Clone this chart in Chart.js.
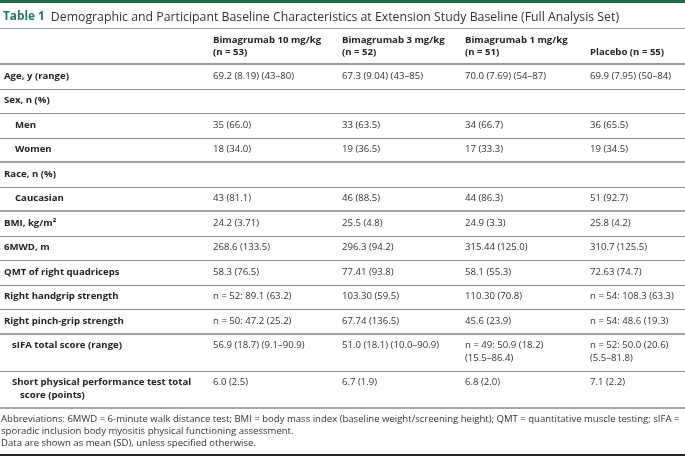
<!DOCTYPE html>
<html><head><meta charset="utf-8">
<script src="https://cdn.jsdelivr.net/npm/chart.js@4/dist/chart.umd.min.js"></script>
<style>html,body{margin:0;padding:0;background:#fff}canvas{display:block}</style>
</head><body>
<div style="width:685px;height:457px"><canvas id="c" width="685" height="457"></canvas></div>
<script>
// ---- data ----
const titleLabel = "Table 1";
const titleText = "Demographic and Participant Baseline Characteristics at Extension Study Baseline (Full Analysis Set)";
const columnHeaders = [
  ["Bimagrumab 10 mg/kg", "(n = 53)"],
  ["Bimagrumab 3 mg/kg", "(n = 52)"],
  ["Bimagrumab 1 mg/kg", "(n = 51)"],
  ["Placebo (n = 55)"]
];
const rowLabels = [
  ["Age, y (range)"], ["Sex, n (%)"], ["Men"], ["Women"], ["Race, n (%)"], ["Caucasian"],
  ["BMI, kg/m²"], ["6MWD, m"], ["QMT of right quadriceps"], ["Right handgrip strength"],
  ["Right pinch-grip strength"], ["sIFA total score (range)"],
  ["Short physical performance test total", "score (points)"]
];
const rowIndent = [0, 0, 2, 2, 0, 2, 0, 0, 0, 0, 0, 1, 1];
const bima10 = [["69.2 (8.19) (43–80)"], [], ["35 (66.0)"], ["18 (34.0)"], [], ["43 (81.1)"], ["24.2 (3.71)"], ["268.6 (133.5)"], ["58.3 (76.5)"], ["n = 52: 89.1 (63.2)"], ["n = 50: 47.2 (25.2)"], ["56.9 (18.7) (9.1–90.9)"], ["6.0 (2.5)"]];
const bima3 = [["67.3 (9.04) (43–85)"], [], ["33 (63.5)"], ["19 (36.5)"], [], ["46 (88.5)"], ["25.5 (4.8)"], ["296.3 (94.2)"], ["77.41 (93.8)"], ["103.30 (59.5)"], ["67.74 (136.5)"], ["51.0 (18.1) (10.0–90.9)"], ["6.7 (1.9)"]];
const bima1 = [["70.0 (7.69) (54–87)"], [], ["34 (66.7)"], ["17 (33.3)"], [], ["44 (86.3)"], ["24.9 (3.3)"], ["315.44 (125.0)"], ["58.1 (55.3)"], ["110.30 (70.8)"], ["45.6 (23.9)"], ["n = 49: 50.9 (18.2)", "(15.5–86.4)"], ["6.8 (2.0)"]];
const placebo = [["69.9 (7.95) (50–84)"], [], ["36 (65.5)"], ["19 (34.5)"], [], ["51 (92.7)"], ["25.8 (4.2)"], ["310.7 (125.5)"], ["72.63 (74.7)"], ["n = 54: 108.3 (63.3)"], ["n = 54: 48.6 (19.3)"], ["n = 52: 50.0 (20.6)", "(5.5–81.8)"], ["7.1 (2.2)"]];
const footnotes = [
  "Abbreviations: 6MWD = 6-minute walk distance test; BMI = body mass index (baseline weight/screening height); QMT = quantitative muscle testing; sIFA =",
  "sporadic inclusion body myositis physical functioning assessment.",
  "Data are shown as mean (SD), unless specified otherwise."
];
const thickAfter = [3, 5, 10, 12];

// ---- drawing ----
const columns = [bima10, bima3, bima1, placebo];
const FONT = '"Open Sans", "Noto Sans", sans-serif';

const tablePlugin = {
  id: 'tablePlugin',
  afterDraw(chart) {
    const ctx = chart.ctx;
    const W = chart.width;
    const colX = [213, 342, 465, 590];
    const indentX = [4, 12, 15];
    ctx.save();
    ctx.textBaseline = 'middle';
    // top bar
    ctx.fillStyle = '#1f6a4b';
    ctx.fillRect(0, 0, W, 3);
    // title
    ctx.font = 'bold 11.8px ' + FONT;
    ctx.fillStyle = '#1e7a52';
    ctx.fillText(titleLabel, 3, 17);
    const tw = ctx.measureText(titleLabel).width;
    ctx.font = '12.3px ' + FONT;
    ctx.fillStyle = '#333';
    ctx.fillText(titleText, 3 + tw + 6, 17);
    // title rule
    ctx.fillStyle = '#8fb8a4';
    ctx.fillRect(0, 28, W, 1);
    // header
    ctx.font = 'bold 9.6px ' + FONT;
    ctx.fillStyle = '#222';
    columnHeaders.forEach((h, i) => {
      const start = h.length === 1 ? 52 : 40;
      h.forEach((t, k) => ctx.fillText(t, colX[i], start + k * 12.5));
    });
    ctx.fillStyle = '#9a9a9a';
    ctx.fillRect(0, 63, W, 2);
    // rows
    let top = 64;
    rowLabels.forEach((lab, r) => {
      const n = Math.max(lab.length, ...columns.map(c => c[r].length), 1);
      const h = 24.5 + (n - 1) * 12.5;
      ctx.font = 'bold 9.6px ' + FONT;
      ctx.fillStyle = '#222';
      lab.forEach((t, k) => ctx.fillText(t, indentX[rowIndent[r]] + (k > 0 ? 8 : 0), top + 12 + k * 12.5));
      ctx.font = '9.6px ' + FONT;
      ctx.fillStyle = '#333';
      columns.forEach((c, i) => c[r].forEach((t, k) => ctx.fillText(t, colX[i], top + 12 + k * 12.5)));
      top += h;
      if (thickAfter.includes(r)) { ctx.fillStyle = '#a6a6a6'; ctx.fillRect(0, Math.round(top) - 1, W, 2); }
      else { ctx.fillStyle = '#8c8c8c'; ctx.fillRect(0, Math.round(top), W, 1); }
    });
    // footnotes
    ctx.font = '9.55px ' + FONT;
    ctx.fillStyle = '#333';
    footnotes.forEach((t, k) => ctx.fillText(t, 1, top + 12 + k * 12));
    ctx.fillStyle = '#222';
    ctx.fillRect(0, 454, W, 2);
    ctx.restore();
  }
};

new Chart(document.getElementById('c'), {
  type: 'scatter',
  data: { labels: rowLabels.map(l => l.join(' ')), datasets: [] },
  options: {
    responsive: false, animation: false, events: [],
    layout: { padding: 0 },
    scales: { x: { display: false }, y: { display: false } },
    plugins: { legend: { display: false }, tooltip: { enabled: false } }
  },
  plugins: [tablePlugin]
});
</script>
</body></html>
